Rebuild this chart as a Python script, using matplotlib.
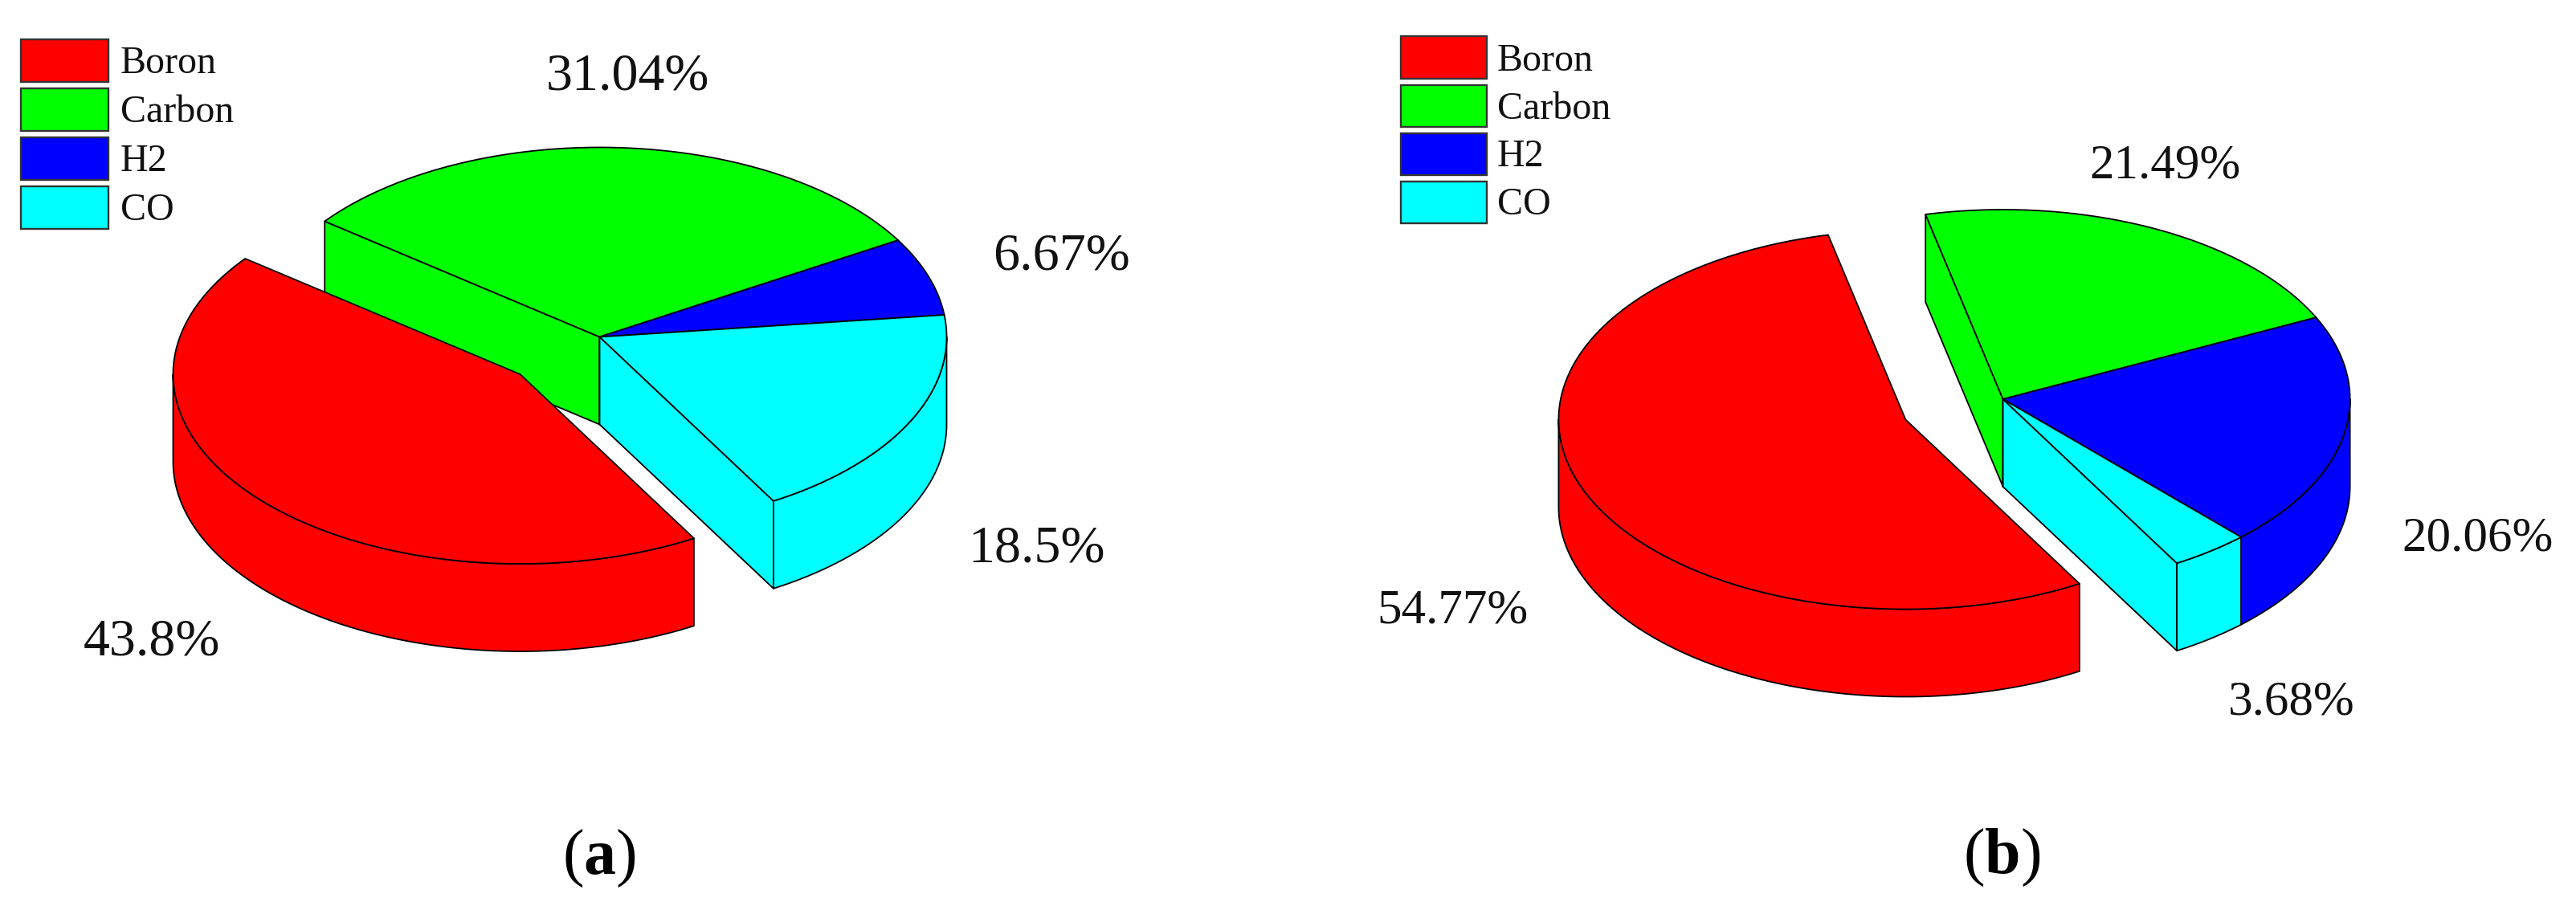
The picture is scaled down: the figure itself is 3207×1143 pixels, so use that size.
"""
Two exploded pseudo-3D pie charts, drawn as projected polygons on one
pixel-sized axes so the tilt and wall depth can be set directly.
"""

import numpy as np
import matplotlib
matplotlib.use("Agg")  # no display here
import matplotlib.pyplot as plt
from matplotlib.patches import Polygon, Rectangle

WIDTH, HEIGHT = 3207, 1143

categories = ["Boron", "Carbon", "H2", "CO"]
colors = ["#ff0000", "#00ff00", "#0000ff", "#00ffff"]

values_a = [43.8, 31.04, 6.67, 18.5]
values_b = [54.77, 21.49, 20.06, 3.68]
labels_a = ["43.8%", "31.04%", "6.67%", "18.5%"]
labels_b = ["54.77%", "21.49%", "20.06%", "3.68%"]

plt.rcParams["font.family"] = ["Liberation Serif", "DejaVu Serif"]
plt.rcParams["mathtext.fontset"] = "custom"
plt.rcParams["mathtext.rm"] = "Liberation Serif"
plt.rcParams["mathtext.bf"] = "Liberation Serif:bold"

RX, RY, DEPTH = 432, 236, 109
EDGE = 1.3


def px(size):
    # font sizes were measured in image pixels
    return size * 72 / 100


def rim(cx, cy, t):
    t = np.radians(t)
    return cx + RX * np.cos(t), cy - RY * np.sin(t)


def add_poly(ax, xs, ys, color):
    pts = np.column_stack([xs, ys])
    ax.add_patch(Polygon(pts, closed=True, facecolor=color, edgecolor="black",
                         linewidth=EDGE, joinstyle="round"))


def draw_slice(ax, cx, cy, t0, t1, color):
    """One wedge: visible cut faces, visible outer wall, then the top."""
    for t, normal in ((t0, t0 - 90), (t1, t1 + 90)):
        if np.sin(np.radians(normal)) < 0:
            x, y = rim(cx, cy, t)
            add_poly(ax, [cx, x, x, cx], [cy, y, y + DEPTH, cy + DEPTH], color)

    # outer wall only exists where the rim faces the viewer (-180..0 deg)
    lo, hi = max(t0, -180), min(t1, 0)
    if hi > lo:
        t = np.linspace(lo, hi, 120)
        x, y = rim(cx, cy, t)
        add_poly(ax, np.r_[x, x[::-1]], np.r_[y, y[::-1] + DEPTH], color)

    t = np.linspace(t0, t1, 200)
    x, y = rim(cx, cy, t)
    add_poly(ax, np.r_[cx, x], np.r_[cy, y], color)


def draw_pie(ax, values, start, center, boron_center):
    """Slices run clockwise from `start`: carbon, H2, CO and then boron."""
    sweeps = np.array(values) / np.sum(values) * 360
    top = start
    for i in [1, 2, 3, 0]:
        c = boron_center if i == 0 else center
        draw_slice(ax, c[0], c[1], top - sweeps[i], top, colors[i])
        top -= sweeps[i]


def draw_legend(ax, x0, w, h, tops, baselines, text_x):
    for i, name in enumerate(categories):
        ax.add_patch(Rectangle((x0, tops[i]), w, h, facecolor=colors[i],
                               edgecolor="#333333", linewidth=EDGE + 0.4))
        ax.text(text_x, baselines[i], name, fontsize=px(48), ha="left",
                va="baseline", color="#111111")


fig = plt.figure(figsize=(WIDTH / 100, HEIGHT / 100), dpi=100)
ax = fig.add_axes([0, 0, 1, 1])
ax.set_xlim(0, WIDTH)
ax.set_ylim(HEIGHT, 0)
ax.axis("off")

# panel a
draw_pie(ax, values_a, 142.4, (746.5, 419.5), (647.5, 466))
draw_legend(ax, 25.5, 109.5, 53, [48.5, 110, 171, 232], [91, 152, 213, 274], 150)
anchors_a = [(104, 816), (680, 111), (1236, 335), (1205, 699)]
for (x, y), text in zip(anchors_a, labels_a):
    ax.text(x, y, text, fontsize=px(66), ha="left", va="baseline", color="#111111")
ax.text(746, 1088, r"($\mathbf{a}$)", fontsize=px(80), ha="center", va="baseline")

# panel b
draw_pie(ax, values_b, 102.9, (2493.6, 497), (2372.4, 522.5))
draw_legend(ax, 1743.5, 107, 52.5, [45, 105.5, 165.5, 225.5], [88, 147.5, 207, 267], 1864)
anchors_b = [(1714, 775), (2601, 221), (2990, 686), (2774, 889)]
for (x, y), text in zip(anchors_b, labels_b):
    ax.text(x, y, text, fontsize=px(61), ha="left", va="baseline", color="#111111")
ax.text(2492, 1087, r"($\mathbf{b}$)", fontsize=px(80), ha="center", va="baseline")

fig.savefig("out.png", dpi=100, facecolor="white")
